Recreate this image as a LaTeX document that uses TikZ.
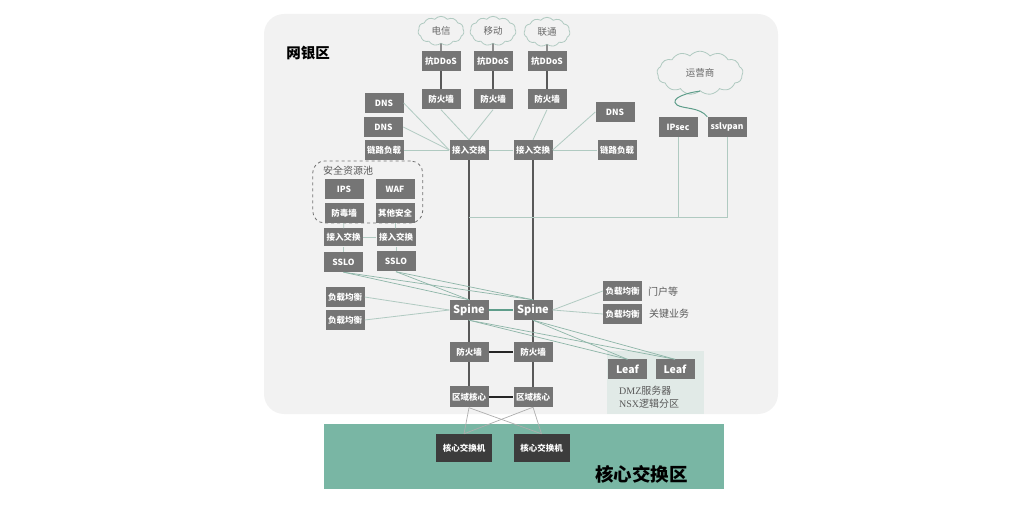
\documentclass[tikz,border=0pt]{standalone}
\usepackage{fontspec}
\setmainfont{Noto Sans CJK SC}
\newfontfamily\latinserif{Liberation Serif}
\usetikzlibrary{shapes.symbols}
\definecolor{panelgray}{HTML}{F2F2F2}
\definecolor{boxgray}{HTML}{757575}
\definecolor{coredark}{HTML}{3C3C3C}
\definecolor{coregreen}{HTML}{79B6A4}
\definecolor{dmzpale}{HTML}{E1EAE7}
\definecolor{linkpale}{HTML}{B0CAC1}
\definecolor{linkmid}{HTML}{8DB5A8}
\definecolor{linkteal}{HTML}{5F9E8B}
\tikzset{
  netbox/.style={fill=boxgray, text=white, inner sep=0pt, minimum width=39pt, minimum height=20pt, font=\fontsize{8.5}{10}\selectfont\bfseries},
  corebox/.style={netbox, fill=coredark, minimum width=56pt, minimum height=28pt},
  sky/.style={cloud, cloud puffs=11, cloud puff arc=100, draw=linkpale, line width=0.8pt, inner sep=0pt, minimum width=46pt, minimum height=19pt, text=black!60, font=\fontsize{9.5}{11}\selectfont},
  trunk/.style={draw=black!65, line width=1.2pt},
  tie/.style={draw=black!85, line width=1.3pt},
  uplink/.style={draw=linkpale, line width=0.8pt},
  crosslink/.style={draw=linkmid, line width=0.7pt},
  corelink/.style={draw=black!32, line width=0.7pt},
  note/.style={inner sep=0pt, text=black!65, font=\fontsize{10}{12}\selectfont},
}

\begin{document}
\begin{tikzpicture}[x=1pt, y=-1pt]
    \useasboundingbox (0,0) rectangle (1020,510);
    \fill[panelgray, rounded corners=20pt] (264,14) rectangle (778,414);
    \fill[coregreen] (324,424) rectangle (724,489);
    \fill[dmzpale] (607,351) rectangle (704,414);
    \node[font=\fontsize{14.5}{16}\selectfont\bfseries, inner sep=0pt] (bankzone) at (308,53) {网银区};
    \node[font=\fontsize{18.5}{20}\selectfont\bfseries, inner sep=0pt] (corezone) at (641.5,474.5) {核心交换区};
    \node[note, anchor=west] (dmz) at (619,390.5) {{\latinserif DMZ}服务器};
    \node[note, anchor=west] (nsx) at (619,404) {{\latinserif NSX}逻辑分区};
    \node[note, anchor=west] (portal) at (648,292) {门户等};
    \node[note, anchor=west] (keybiz) at (649,314) {关键业务};

    \node[draw=black!55, dashed, line width=0.8pt, rounded corners=12pt, minimum width=110pt, minimum height=62pt, inner sep=0pt] (pool) at (367.7,192) {};
    \node[note] (pooltext) at (348,171) {安全资源池};

    \node[sky] (telecom) at (441,31) {电信};
    \node[sky] (mobile) at (493,31) {移动};
    \node[sky] (unicom) at (547,32) {联通};
    \node[sky, minimum width=86pt, minimum height=30pt, cloud puffs=13] (carrier) at (700,73) {运营商};

    \node[netbox] (ddosa) at (441,61) {抗DDoS};
    \node[netbox] (ddosb) at (493,61) {抗DDoS};
    \node[netbox] (ddosc) at (547,61) {抗DDoS};
    \node[netbox] (fwa) at (441,99.5) {防火墙};
    \node[netbox] (fwb) at (493,99.5) {防火墙};
    \node[netbox] (fwc) at (547,99.5) {防火墙};
    \node[netbox] (dnsa) at (384,103) {DNS};
    \node[netbox] (dnsb) at (383.5,127) {DNS};
    \node[netbox] (lineleft) at (384,150) {链路负载};
    \node[netbox] (accessa) at (469,150) {接入交换};
    \node[netbox] (accessb) at (533,150) {接入交换};
    \node[netbox] (dnsc) at (615,112) {DNS};
    \node[netbox] (lineright) at (617,150) {链路负载};
    \node[netbox] (ipsec) at (678,127) {IPsec};
    \node[netbox] (sslvpan) at (727,127) {sslvpan};

    \node[netbox] (ips) at (344,189) {IPS};
    \node[netbox] (waf) at (395,189) {WAF};
    \node[netbox] (antivirus) at (344,213) {防毒墙};
    \node[netbox] (othersec) at (395,213) {其他安全};
    \node[netbox, minimum height=18pt] (accessc) at (343.5,237.5) {接入交换};
    \node[netbox, minimum height=18pt] (accessd) at (396,237.5) {接入交换};
    \node[netbox] (ssloa) at (343.5,262) {SSLO};
    \node[netbox] (sslob) at (396,261.5) {SSLO};
    \node[netbox] (lba) at (345,297) {负载均衡};
    \node[netbox] (lbb) at (345,320) {负载均衡};

    \node[netbox, font=\fontsize{11}{13}\selectfont\bfseries] (spinea) at (469,310) {Spine};
    \node[netbox, font=\fontsize{11}{13}\selectfont\bfseries] (spineb) at (533,310) {Spine};
    \node[netbox] (lbc) at (622.5,291) {负载均衡};
    \node[netbox] (lbd) at (622.5,314) {负载均衡};
    \node[netbox] (fwd) at (469,352) {防火墙};
    \node[netbox] (fwe) at (533,352) {防火墙};
    \node[netbox, minimum height=21pt] (zonea) at (469,397) {区域核心};
    \node[netbox] (zoneb) at (533,397) {区域核心};
    \node[netbox, font=\fontsize{10.5}{12}\selectfont\bfseries] (leafa) at (627.5,369.5) {Leaf};
    \node[netbox, font=\fontsize{10.5}{12}\selectfont\bfseries] (leafb) at (675,369.5) {Leaf};
    \node[corebox] (corea) at (464,448) {核心交换机};
    \node[corebox] (coreb) at (541.5,448) {核心交换机};

    \coordinate (merge) at (469,218);

    \draw[trunk] (telecom.south) -- (ddosa.north);
    \draw[trunk] (mobile.south) -- (ddosb.north);
    \draw[trunk] (unicom.south) -- (ddosc.north);
    \draw[trunk] (ddosa) -- (fwa);
    \draw[trunk] (ddosb) -- (fwb);
    \draw[trunk] (ddosc) -- (fwc);
    \draw[trunk] (accessa) -- (spinea);
    \draw[trunk] (accessb) -- (spineb);
    \draw[trunk] (spinea) -- (fwd);
    \draw[trunk] (spineb) -- (fwe);
    \draw[trunk] (fwd) -- (zonea);
    \draw[trunk] (fwe) -- (zoneb);
    \draw[tie] (fwd) -- (fwe);
    \draw[tie, line width=2pt] (zonea) -- (zoneb);
    \draw[draw=linkteal, line width=2.5pt] (spinea) -- (spineb);

    \draw[uplink] (fwa.south) -- (accessa.north);
    \draw[uplink] (fwb.south) -- (accessa.north);
    \draw[uplink] (fwc.south) -- (accessb.north);
    \draw[uplink] (dnsa.east) -- (accessa.west);
    \draw[uplink] (dnsb.east) -- (accessa.west);
    \draw[uplink] (lineleft) -- (accessa);
    \draw[uplink] (accessa) -- (accessb);
    \draw[uplink] (dnsc.west) -- (accessb.east);
    \draw[uplink] (lineright) -- (accessb);
    \draw[uplink, line width=1pt] (merge) -- (sslvpan |- merge) -- (sslvpan);
    \draw[uplink, line width=1pt] (ipsec) -- (ipsec |- merge);
    \draw[draw=linkteal, line width=1pt] (carrier.south) .. controls (690,92) and (668,98) .. (677,105) .. controls (683,109) and (700,107) .. (sslvpan.north west);

    \draw[uplink] (antivirus) -- (accessc);
    \draw[uplink] (othersec) -- (accessd);
    \draw[uplink] (accessc) -- (ssloa);
    \draw[uplink] (accessd) -- (sslob);
    \draw[uplink] (accessc) -- (accessd);
    \draw[crosslink] (ssloa.south) -- (spinea.north);
    \draw[crosslink] (ssloa.south) -- (spineb.north);
    \draw[crosslink] (sslob.south) -- (spinea.north);
    \draw[crosslink] (sslob.south) -- (spineb.north);
    \draw[uplink] (lba.east) -- (spinea.west);
    \draw[uplink] (lbb.east) -- (spinea.west);
    \draw[uplink] (spineb.east) -- (lbc.west);
    \draw[uplink] (spineb.east) -- (lbd.west);
    \draw[crosslink] (spinea.south) -- (leafa.north);
    \draw[crosslink] (spinea.south) -- (leafb.north);
    \draw[crosslink] (spineb.south) -- (leafa.north);
    \draw[crosslink] (spineb.south) -- (leafb.north);
    \draw[corelink] (zonea.south) -- (corea.north);
    \draw[corelink] (zonea.south) -- (coreb.north);
    \draw[corelink] (zoneb.south) -- (corea.north);
    \draw[corelink] (zoneb.south) -- (coreb.north);
\end{tikzpicture}
\end{document}
